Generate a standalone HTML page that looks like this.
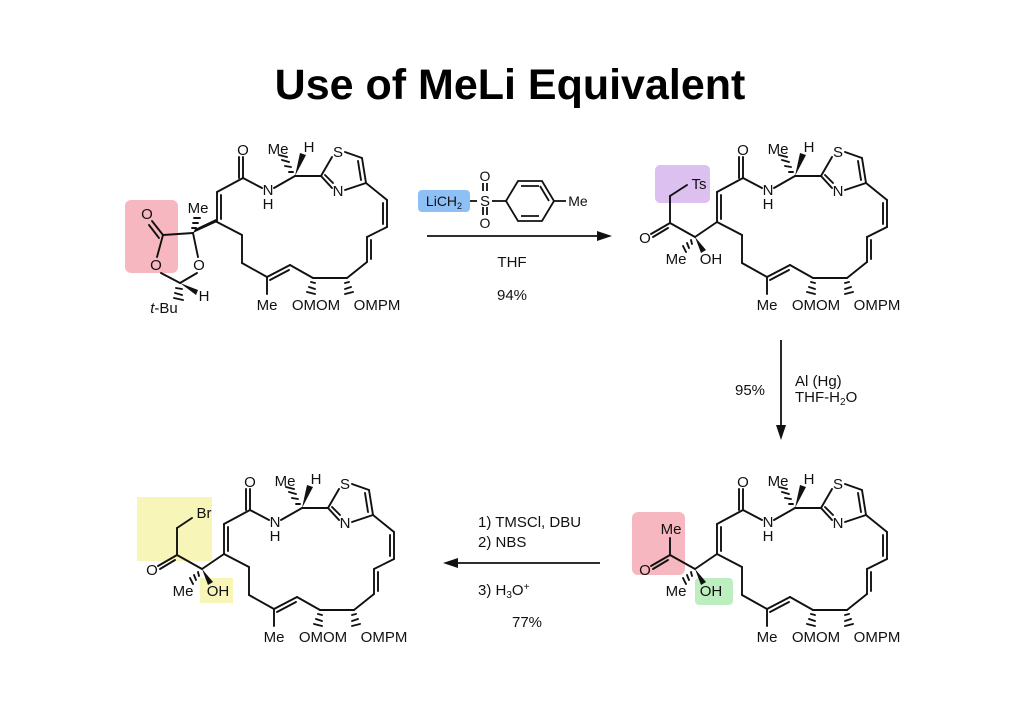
<!DOCTYPE html>
<html><head><meta charset="utf-8"><style>
body{margin:0;background:#fff;}
svg{display:block;font-family:"Liberation Sans",sans-serif;}
text{font-size:15px;fill:#111;}
.t{font-size:14px;}
</style></head><body>
<svg width="1024" height="724" viewBox="0 0 1024 724" xmlns="http://www.w3.org/2000/svg">
<text x="510" y="99" text-anchor="middle" style="font-size:43px;font-weight:bold;fill:#000">Use of MeLi Equivalent</text>

<rect x="125" y="200" width="53" height="73" rx="6" fill="#f6b7c0"/>
<rect x="655" y="165" width="55" height="38" rx="5" fill="#dcc0f0"/>
<rect x="418" y="190" width="52" height="22" rx="4" fill="#8ec0f5"/>
<rect x="632" y="512" width="53" height="63" rx="6" fill="#f6b7c0"/>
<rect x="695" y="578" width="38" height="27" rx="4" fill="#bdeec0"/>
<rect x="137" y="497" width="75" height="64" fill="#f8f5b8"/>
<rect x="200" y="578" width="33" height="25" fill="#f8f5b8"/>

<g stroke="#111" stroke-width="1.9" fill="none" stroke-linecap="round">
<line x1="243" y1="178" x2="243" y2="157"/><line x1="239" y1="178" x2="239" y2="157"/>
<line x1="243" y1="178" x2="217" y2="192"/>
<line x1="217" y1="192" x2="217" y2="222"/><line x1="221" y1="195" x2="221" y2="219"/>
<line x1="243" y1="178" x2="262" y2="188"/>
<line x1="274" y1="188" x2="295" y2="176"/>
<line x1="295" y1="176" x2="321" y2="176"/>
<polygon points="295,176 300,153 306,155" fill="#111" stroke="none"/>
<line x1="293" y1="172" x2="289" y2="172"/><line x1="291" y1="167" x2="285" y2="166"/><line x1="289" y1="162" x2="282" y2="160"/><line x1="287" y1="157" x2="279" y2="155"/>
<line x1="321" y1="176" x2="332" y2="157"/>
<line x1="345" y1="152" x2="362" y2="158"/>
<line x1="362" y1="158" x2="366" y2="183"/><line x1="358" y1="161" x2="361" y2="180"/>
<line x1="366" y1="183" x2="345" y2="190"/>
<line x1="332" y1="188" x2="321" y2="176"/><line x1="333" y1="183" x2="325" y2="175"/>
<line x1="366" y1="183" x2="387" y2="200"/>
<line x1="387" y1="200" x2="387" y2="227"/><line x1="383" y1="203" x2="383" y2="224"/>
<line x1="387" y1="227" x2="367" y2="237"/>
<line x1="367" y1="237" x2="367" y2="262"/><line x1="371" y1="240" x2="371" y2="259"/>
<line x1="367" y1="262" x2="347" y2="278"/>
<line x1="347" y1="278" x2="313" y2="278"/>
<line x1="313" y1="278" x2="290" y2="265"/>
<line x1="290" y1="265" x2="267" y2="277"/><line x1="289" y1="270" x2="270" y2="280"/>
<line x1="267" y1="277" x2="267" y2="294"/>
<line x1="267" y1="277" x2="242" y2="263"/>
<line x1="242" y1="263" x2="242" y2="235"/>
<line x1="242" y1="235" x2="217" y2="222"/>
<line x1="311" y1="282" x2="315" y2="283"/><line x1="309" y1="287" x2="315" y2="289"/><line x1="307" y1="292" x2="315" y2="294"/>
<line x1="349" y1="282" x2="345" y2="283"/><line x1="351" y1="287" x2="345" y2="289"/><line x1="353" y1="292" x2="345" y2="294"/>
<g stroke="none" fill="#111">
<text x="243" y="155" text-anchor="middle">O</text>
<text x="268" y="195" text-anchor="middle">N</text>
<text x="268" y="209" text-anchor="middle">H</text>
<text x="278" y="154" text-anchor="middle">Me</text>
<text x="309" y="152" text-anchor="middle">H</text>
<text x="338" y="157" text-anchor="middle">S</text>
<text x="338" y="196" text-anchor="middle">N</text>
<text x="267" y="310" text-anchor="middle">Me</text>
<text x="316" y="310" text-anchor="middle">OMOM</text>
<text x="377" y="310" text-anchor="middle">OMPM</text>
</g>
<polygon points="217,222 193,233 195,229 216,219" fill="#111" stroke="none"/>
<line x1="193" y1="233" x2="163" y2="235"/>
<line x1="163" y1="235" x2="152" y2="221"/><line x1="159" y1="238" x2="149" y2="225"/>
<line x1="163" y1="235" x2="157" y2="257"/>
<line x1="193" y1="233" x2="198" y2="257"/>
<line x1="161" y1="273" x2="180" y2="283"/><line x1="197" y1="273" x2="180" y2="283"/>
<polygon points="180,283 198,290 196,295" fill="#111" stroke="none"/>
<line x1="192" y1="228" x2="196" y2="228"/><line x1="193" y1="223" x2="198" y2="223"/><line x1="194" y1="218" x2="200" y2="218"/>
<line x1="176" y1="288" x2="182" y2="289"/><line x1="175" y1="293" x2="182" y2="295"/><line x1="174" y1="298" x2="183" y2="300"/>
<g stroke="none" fill="#111">
<text x="147" y="219" text-anchor="middle">O</text>
<text x="156" y="270" text-anchor="middle">O</text>
<text x="199" y="270" text-anchor="middle">O</text>
<text x="198" y="213" text-anchor="middle">Me</text>
<text x="204" y="301" text-anchor="middle">H</text>
<text x="164" y="313" text-anchor="middle"><tspan font-style="italic">t</tspan>-Bu</text>
</g>
</g>

<g transform="translate(500,0)" stroke="#111" stroke-width="1.9" fill="none" stroke-linecap="round">
<line x1="243" y1="178" x2="243" y2="157"/><line x1="239" y1="178" x2="239" y2="157"/>
<line x1="243" y1="178" x2="217" y2="192"/>
<line x1="217" y1="192" x2="217" y2="222"/><line x1="221" y1="195" x2="221" y2="219"/>
<line x1="243" y1="178" x2="262" y2="188"/>
<line x1="274" y1="188" x2="295" y2="176"/>
<line x1="295" y1="176" x2="321" y2="176"/>
<polygon points="295,176 300,153 306,155" fill="#111" stroke="none"/>
<line x1="293" y1="172" x2="289" y2="172"/><line x1="291" y1="167" x2="285" y2="166"/><line x1="289" y1="162" x2="282" y2="160"/><line x1="287" y1="157" x2="279" y2="155"/>
<line x1="321" y1="176" x2="332" y2="157"/>
<line x1="345" y1="152" x2="362" y2="158"/>
<line x1="362" y1="158" x2="366" y2="183"/><line x1="358" y1="161" x2="361" y2="180"/>
<line x1="366" y1="183" x2="345" y2="190"/>
<line x1="332" y1="188" x2="321" y2="176"/><line x1="333" y1="183" x2="325" y2="175"/>
<line x1="366" y1="183" x2="387" y2="200"/>
<line x1="387" y1="200" x2="387" y2="227"/><line x1="383" y1="203" x2="383" y2="224"/>
<line x1="387" y1="227" x2="367" y2="237"/>
<line x1="367" y1="237" x2="367" y2="262"/><line x1="371" y1="240" x2="371" y2="259"/>
<line x1="367" y1="262" x2="347" y2="278"/>
<line x1="347" y1="278" x2="313" y2="278"/>
<line x1="313" y1="278" x2="290" y2="265"/>
<line x1="290" y1="265" x2="267" y2="277"/><line x1="289" y1="270" x2="270" y2="280"/>
<line x1="267" y1="277" x2="267" y2="294"/>
<line x1="267" y1="277" x2="242" y2="263"/>
<line x1="242" y1="263" x2="242" y2="235"/>
<line x1="242" y1="235" x2="217" y2="222"/>
<line x1="311" y1="282" x2="315" y2="283"/><line x1="309" y1="287" x2="315" y2="289"/><line x1="307" y1="292" x2="315" y2="294"/>
<line x1="349" y1="282" x2="345" y2="283"/><line x1="351" y1="287" x2="345" y2="289"/><line x1="353" y1="292" x2="345" y2="294"/>
<g stroke="none" fill="#111">
<text x="243" y="155" text-anchor="middle">O</text>
<text x="268" y="195" text-anchor="middle">N</text>
<text x="268" y="209" text-anchor="middle">H</text>
<text x="278" y="154" text-anchor="middle">Me</text>
<text x="309" y="152" text-anchor="middle">H</text>
<text x="338" y="157" text-anchor="middle">S</text>
<text x="338" y="196" text-anchor="middle">N</text>
<text x="267" y="310" text-anchor="middle">Me</text>
<text x="316" y="310" text-anchor="middle">OMOM</text>
<text x="377" y="310" text-anchor="middle">OMPM</text>
</g>
<line x1="217" y1="222" x2="195" y2="237"/>
<line x1="195" y1="237" x2="170" y2="223"/>
<line x1="170" y1="223" x2="151" y2="234"/><line x1="168" y1="228" x2="153" y2="237"/>
<line x1="170" y1="223" x2="170" y2="196"/>
<line x1="170" y1="196" x2="187" y2="185"/>
<polygon points="195,237 206,250 201,253" fill="#111" stroke="none"/>
<line x1="191" y1="240" x2="192" y2="244"/><line x1="187" y1="243" x2="189" y2="248"/><line x1="183" y1="246" x2="186" y2="252"/>
<g stroke="none" fill="#111">
<text x="199" y="189" text-anchor="middle">Ts</text>
<text x="145" y="243" text-anchor="middle">O</text>
<text x="176" y="264" text-anchor="middle">Me</text>
<text x="211" y="264" text-anchor="middle">OH</text>
</g>
</g>

<g transform="translate(500,332)" stroke="#111" stroke-width="1.9" fill="none" stroke-linecap="round">
<line x1="243" y1="178" x2="243" y2="157"/><line x1="239" y1="178" x2="239" y2="157"/>
<line x1="243" y1="178" x2="217" y2="192"/>
<line x1="217" y1="192" x2="217" y2="222"/><line x1="221" y1="195" x2="221" y2="219"/>
<line x1="243" y1="178" x2="262" y2="188"/>
<line x1="274" y1="188" x2="295" y2="176"/>
<line x1="295" y1="176" x2="321" y2="176"/>
<polygon points="295,176 300,153 306,155" fill="#111" stroke="none"/>
<line x1="293" y1="172" x2="289" y2="172"/><line x1="291" y1="167" x2="285" y2="166"/><line x1="289" y1="162" x2="282" y2="160"/><line x1="287" y1="157" x2="279" y2="155"/>
<line x1="321" y1="176" x2="332" y2="157"/>
<line x1="345" y1="152" x2="362" y2="158"/>
<line x1="362" y1="158" x2="366" y2="183"/><line x1="358" y1="161" x2="361" y2="180"/>
<line x1="366" y1="183" x2="345" y2="190"/>
<line x1="332" y1="188" x2="321" y2="176"/><line x1="333" y1="183" x2="325" y2="175"/>
<line x1="366" y1="183" x2="387" y2="200"/>
<line x1="387" y1="200" x2="387" y2="227"/><line x1="383" y1="203" x2="383" y2="224"/>
<line x1="387" y1="227" x2="367" y2="237"/>
<line x1="367" y1="237" x2="367" y2="262"/><line x1="371" y1="240" x2="371" y2="259"/>
<line x1="367" y1="262" x2="347" y2="278"/>
<line x1="347" y1="278" x2="313" y2="278"/>
<line x1="313" y1="278" x2="290" y2="265"/>
<line x1="290" y1="265" x2="267" y2="277"/><line x1="289" y1="270" x2="270" y2="280"/>
<line x1="267" y1="277" x2="267" y2="294"/>
<line x1="267" y1="277" x2="242" y2="263"/>
<line x1="242" y1="263" x2="242" y2="235"/>
<line x1="242" y1="235" x2="217" y2="222"/>
<line x1="311" y1="282" x2="315" y2="283"/><line x1="309" y1="287" x2="315" y2="289"/><line x1="307" y1="292" x2="315" y2="294"/>
<line x1="349" y1="282" x2="345" y2="283"/><line x1="351" y1="287" x2="345" y2="289"/><line x1="353" y1="292" x2="345" y2="294"/>
<g stroke="none" fill="#111">
<text x="243" y="155" text-anchor="middle">O</text>
<text x="268" y="195" text-anchor="middle">N</text>
<text x="268" y="209" text-anchor="middle">H</text>
<text x="278" y="154" text-anchor="middle">Me</text>
<text x="309" y="152" text-anchor="middle">H</text>
<text x="338" y="157" text-anchor="middle">S</text>
<text x="338" y="196" text-anchor="middle">N</text>
<text x="267" y="310" text-anchor="middle">Me</text>
<text x="316" y="310" text-anchor="middle">OMOM</text>
<text x="377" y="310" text-anchor="middle">OMPM</text>
</g>
<line x1="217" y1="222" x2="195" y2="237"/>
<line x1="195" y1="237" x2="170" y2="223"/>
<line x1="170" y1="223" x2="151" y2="234"/><line x1="168" y1="228" x2="153" y2="237"/>
<line x1="170" y1="223" x2="170" y2="206"/>
<polygon points="195,237 206,250 201,253" fill="#111" stroke="none"/>
<line x1="191" y1="240" x2="192" y2="244"/><line x1="187" y1="243" x2="189" y2="248"/><line x1="183" y1="246" x2="186" y2="252"/>
<g stroke="none" fill="#111">
<text x="171" y="202" text-anchor="middle">Me</text>
<text x="145" y="243" text-anchor="middle">O</text>
<text x="176" y="264" text-anchor="middle">Me</text>
<text x="211" y="264" text-anchor="middle">OH</text>
</g>
</g>

<g transform="translate(7,332)" stroke="#111" stroke-width="1.9" fill="none" stroke-linecap="round">
<line x1="243" y1="178" x2="243" y2="157"/><line x1="239" y1="178" x2="239" y2="157"/>
<line x1="243" y1="178" x2="217" y2="192"/>
<line x1="217" y1="192" x2="217" y2="222"/><line x1="221" y1="195" x2="221" y2="219"/>
<line x1="243" y1="178" x2="262" y2="188"/>
<line x1="274" y1="188" x2="295" y2="176"/>
<line x1="295" y1="176" x2="321" y2="176"/>
<polygon points="295,176 300,153 306,155" fill="#111" stroke="none"/>
<line x1="293" y1="172" x2="289" y2="172"/><line x1="291" y1="167" x2="285" y2="166"/><line x1="289" y1="162" x2="282" y2="160"/><line x1="287" y1="157" x2="279" y2="155"/>
<line x1="321" y1="176" x2="332" y2="157"/>
<line x1="345" y1="152" x2="362" y2="158"/>
<line x1="362" y1="158" x2="366" y2="183"/><line x1="358" y1="161" x2="361" y2="180"/>
<line x1="366" y1="183" x2="345" y2="190"/>
<line x1="332" y1="188" x2="321" y2="176"/><line x1="333" y1="183" x2="325" y2="175"/>
<line x1="366" y1="183" x2="387" y2="200"/>
<line x1="387" y1="200" x2="387" y2="227"/><line x1="383" y1="203" x2="383" y2="224"/>
<line x1="387" y1="227" x2="367" y2="237"/>
<line x1="367" y1="237" x2="367" y2="262"/><line x1="371" y1="240" x2="371" y2="259"/>
<line x1="367" y1="262" x2="347" y2="278"/>
<line x1="347" y1="278" x2="313" y2="278"/>
<line x1="313" y1="278" x2="290" y2="265"/>
<line x1="290" y1="265" x2="267" y2="277"/><line x1="289" y1="270" x2="270" y2="280"/>
<line x1="267" y1="277" x2="267" y2="294"/>
<line x1="267" y1="277" x2="242" y2="263"/>
<line x1="242" y1="263" x2="242" y2="235"/>
<line x1="242" y1="235" x2="217" y2="222"/>
<line x1="311" y1="282" x2="315" y2="283"/><line x1="309" y1="287" x2="315" y2="289"/><line x1="307" y1="292" x2="315" y2="294"/>
<line x1="349" y1="282" x2="345" y2="283"/><line x1="351" y1="287" x2="345" y2="289"/><line x1="353" y1="292" x2="345" y2="294"/>
<g stroke="none" fill="#111">
<text x="243" y="155" text-anchor="middle">O</text>
<text x="268" y="195" text-anchor="middle">N</text>
<text x="268" y="209" text-anchor="middle">H</text>
<text x="278" y="154" text-anchor="middle">Me</text>
<text x="309" y="152" text-anchor="middle">H</text>
<text x="338" y="157" text-anchor="middle">S</text>
<text x="338" y="196" text-anchor="middle">N</text>
<text x="267" y="310" text-anchor="middle">Me</text>
<text x="316" y="310" text-anchor="middle">OMOM</text>
<text x="377" y="310" text-anchor="middle">OMPM</text>
</g>
<line x1="217" y1="222" x2="195" y2="237"/>
<line x1="195" y1="237" x2="170" y2="223"/>
<line x1="170" y1="223" x2="151" y2="234"/><line x1="168" y1="228" x2="153" y2="237"/>
<line x1="170" y1="223" x2="170" y2="196"/>
<line x1="170" y1="196" x2="185" y2="186"/>
<polygon points="195,237 206,250 201,253" fill="#111" stroke="none"/>
<line x1="191" y1="240" x2="192" y2="244"/><line x1="187" y1="243" x2="189" y2="248"/><line x1="183" y1="246" x2="186" y2="252"/>
<g stroke="none" fill="#111">
<text x="197" y="186" text-anchor="middle">Br</text>
<text x="145" y="243" text-anchor="middle">O</text>
<text x="176" y="264" text-anchor="middle">Me</text>
<text x="211" y="264" text-anchor="middle">OH</text>
</g>
</g>

<g stroke="#111" stroke-width="1.8" fill="none">
<line x1="427" y1="236" x2="600" y2="236"/>
<line x1="470" y1="201" x2="477" y2="201"/>
<line x1="492" y1="201" x2="506" y2="201"/>
<line x1="483" y1="191" x2="483" y2="183"/><line x1="487" y1="191" x2="487" y2="183"/>
<line x1="483" y1="207" x2="483" y2="215"/><line x1="487" y1="207" x2="487" y2="215"/>
<polygon points="506,201 518,181 542,181 554,201 542,221 518,221"/>
<line x1="521" y1="186" x2="539" y2="186"/><line x1="521" y1="216" x2="539" y2="216"/><line x1="549" y1="201" x2="540" y2="186"/>
<line x1="554" y1="201" x2="566" y2="201"/>
<line x1="781" y1="340" x2="781" y2="428"/>
<line x1="600" y1="563" x2="455" y2="563"/>
</g>
<polygon points="612,236 597,231 597,241" fill="#111"/>
<polygon points="781,440 776,425 786,425" fill="#111"/>
<polygon points="443,563 458,558 458,568" fill="#111"/>
<text x="444" y="206" text-anchor="middle" class="t">LiCH<tspan font-size="9" dy="3">2</tspan></text>
<text x="485" y="206" text-anchor="middle">S</text>
<text x="485" y="181" text-anchor="middle" class="t">O</text>
<text x="485" y="228" text-anchor="middle" class="t">O</text>
<text x="578" y="206" text-anchor="middle" class="t">Me</text>
<text x="512" y="267" text-anchor="middle">THF</text>
<text x="512" y="300" text-anchor="middle">94%</text>
<text x="750" y="395" text-anchor="middle">95%</text>
<text x="795" y="386">Al (Hg)</text>
<text x="795" y="402">THF-H<tspan font-size="10" dy="3">2</tspan><tspan dy="-3">O</tspan></text>
<text x="478" y="527">1) TMSCl, DBU</text>
<text x="478" y="547">2) NBS</text>
<text x="478" y="595">3) H<tspan font-size="10" dy="3">3</tspan><tspan dy="-3">O</tspan><tspan font-size="10" dy="-5">+</tspan></text>
<text x="527" y="627" text-anchor="middle">77%</text>
</svg>
</body></html>
